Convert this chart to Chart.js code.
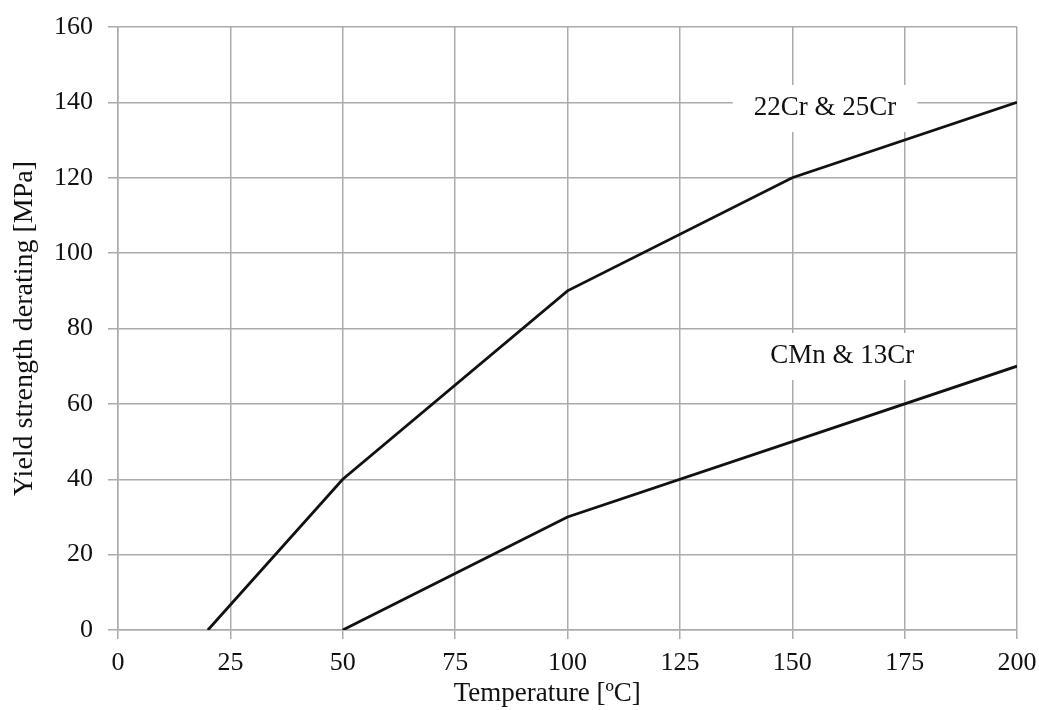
<!DOCTYPE html>
<html>
<head>
<meta charset="utf-8">
<script src="https://cdn.jsdelivr.net/npm/chart.js@4/dist/chart.umd.min.js"></script>
<style>
  html, body { margin: 0; padding: 0; background: #fff; }
  #wrap { width: 1039px; height: 710px; }
</style>
</head>
<body>
<div id="wrap"><canvas id="c" width="1039" height="710"></canvas></div>
<script>
// derating curves, temperature [ºC] vs yield strength derating [MPa]
const duplexTemp = [20, 50, 100, 150, 200];
const duplexDerating = [0, 40, 90, 120, 140];
const carbonTemp = [50, 100, 150, 200];
const carbonDerating = [0, 30, 50, 70];
const xTicks = [0, 25, 50, 75, 100, 125, 150, 175, 200];
const yTicks = [0, 20, 40, 60, 80, 100, 120, 140, 160];
const seriesNames = ["22Cr & 25Cr", "CMn & 13Cr"];

const serif = "'Liberation Serif', 'DejaVu Serif', serif";
const gridGray = "#ababab";

const pts = (xs, ys) => xs.map((x, i) => ({ x, y: ys[i] }));

// text boxes sitting on the curves, white backing hides the grid
const curveLabels = {
  id: "curveLabels",
  afterDatasetsDraw(chart, args, opts) {
    const { ctx, scales: { x, y } } = chart;
    ctx.save();
    ctx.font = "27px " + serif;
    ctx.textAlign = "center";
    ctx.textBaseline = "middle";
    opts.items.forEach((it) => {
      const px = x.getPixelForValue(it.x);
      const py = y.getPixelForValue(it.y);
      const w = ctx.measureText(it.text).width + 42;
      ctx.fillStyle = "#fff";
      ctx.fillRect(px - w / 2, py - 23, w, 47);
      ctx.fillStyle = "#111";
      ctx.fillText(it.text, px, py);
    });
    ctx.restore();
  },
};

new Chart(document.getElementById("c"), {
  type: "scatter",
  data: {
    datasets: [
      { label: seriesNames[0], data: pts(duplexTemp, duplexDerating) },
      { label: seriesNames[1], data: pts(carbonTemp, carbonDerating) },
    ].map((d) => ({
      ...d,
      showLine: true,
      borderColor: "#111",
      borderWidth: 2.8,
      pointRadius: 0,
      tension: 0,
    })),
  },
  options: {
    responsive: false,
    animation: false,
    layout: { padding: { top: 27, right: 22, left: 0, bottom: 0 } },
    plugins: {
      legend: { display: false },
      tooltip: { enabled: false },
      curveLabels: {
        items: [
          { text: seriesNames[0], x: 157.3, y: 138.5 },
          { text: seriesNames[1], x: 161.1, y: 72.7 },
        ],
      },
    },
    scales: {
      x: {
        type: "linear",
        min: 0,
        max: 200,
        afterBuildTicks: (s) => { s.ticks = xTicks.map((v) => ({ value: v })); },
        // fixed band height, and no extra room reserved for the end labels
        afterFit: (s) => { s.height = 80; s.paddingLeft = 0; s.paddingRight = 0; },
        ticks: { color: "#111", font: { family: serif, size: 26 }, padding: 9, maxRotation: 0 },
        grid: { color: gridGray, lineWidth: 1.5, tickLength: 9, tickColor: gridGray },
        border: { color: gridGray, width: 1.5 },
        title: {
          display: true,
          // trailing nbsp nudges the title a little left of the axis centre
          text: "Temperature [ºC]" + "\u00a0".repeat(6),
          color: "#111",
          font: { family: serif, size: 27 },
          padding: { top: 0, bottom: 0 },
        },
      },
      y: {
        min: 0,
        max: 160,
        afterBuildTicks: (s) => { s.ticks = yTicks.map((v) => ({ value: v })); },
        afterFit: (s) => { s.width = 118; s.paddingTop = 0; s.paddingBottom = 0; },
        ticks: { color: "#111", font: { family: serif, size: 26 }, padding: 15 },
        grid: { color: gridGray, lineWidth: 1.5, tickLength: 10, tickColor: gridGray },
        border: { color: gridGray, width: 1.5 },
        title: {
          display: true,
          text: "Yield strength derating [MPa]",
          color: "#111",
          font: { family: serif, size: 28 },
          padding: { top: 8, bottom: 0 },
        },
      },
    },
  },
  plugins: [curveLabels],
});
</script>
</body>
</html>
